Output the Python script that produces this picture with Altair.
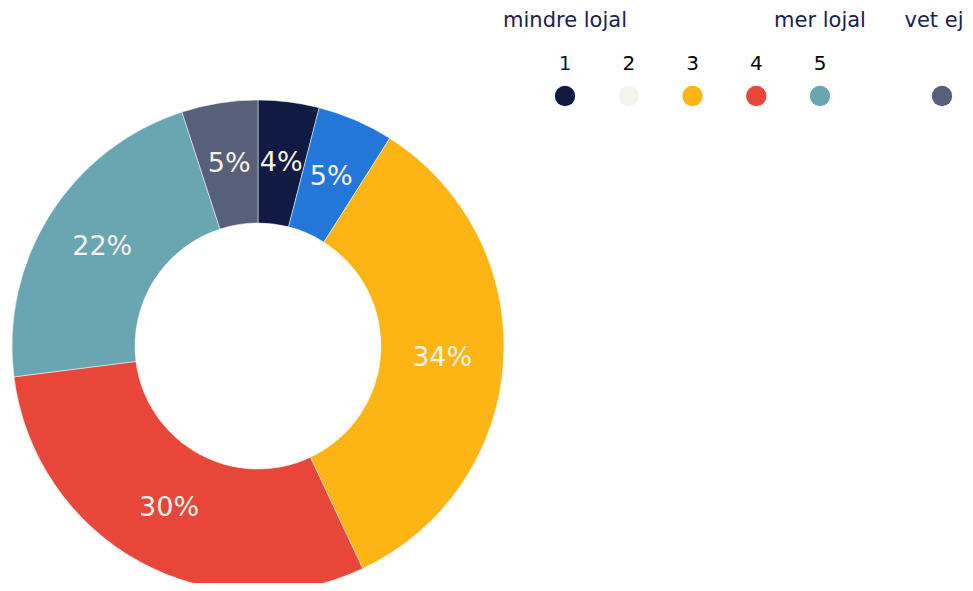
import altair as alt
import pandas as pd

categories = ["1", "2", "3", "4", "5", "vet ej"]
values = [4, 5, 34, 30, 22, 5]
slice_colors = ["#101a43", "#2377d9", "#fdb515", "#e84638", "#6aa5b2", "#575f7a"]
legend_colors = ["#101a43", "#f4f3ee", "#fdb515", "#e84638", "#6aa5b2", "#575f7a"]
legend_numbers = ["1", "2", "3", "4", "5", ""]
number_colors = ["#101a43", "#000000", "#000000", "#000000", "#000000", "#000000"]
legend_headers = ["mindre lojal", "", "", "", "mer lojal", "vet ej"]

FONT = "DejaVu Sans"

df = pd.DataFrame({
    "cat": categories,
    "value": values,
    "idx": list(range(len(categories))),
    "label": [f"{v}%" for v in values],
})

leg = pd.DataFrame({
    "cat": categories,
    "slot": list(range(len(categories))),
    "num": legend_numbers,
    "numcolor": number_colors,
    "dotcolor": legend_colors,
    "header": legend_headers,
})

cx, cy = 250, 338

arc = alt.Chart(df).mark_arc(innerRadius=123, outerRadius=246, stroke="#ffffff", strokeWidth=0.5).encode(
    theta=alt.Theta("value:Q", stack=True, scale=alt.Scale(domain=[0, sum(values)])),
    color=alt.Color("cat:N", scale=alt.Scale(domain=categories, range=slice_colors), legend=None),
    order=alt.Order("idx:Q"),
    x=alt.value(cx),
    y=alt.value(cy),
)

labels = alt.Chart(df).mark_text(radius=184.5, font=FONT, fontSize=27, color="#f4f1e9",
                                 align="center", baseline="middle").encode(
    theta=alt.Theta("value:Q", stack=True, scale=alt.Scale(domain=[0, sum(values)])),
    order=alt.Order("idx:Q"),
    text="label:N",
    x=alt.value(cx),
    y=alt.value(cy),
)

# piecewise linear legend scale: five equally spaced items, then a gap before "vet ej"
xscale = alt.Scale(type="linear", domain=[0, 4, 5], range=[557, 812, 934])

dots = alt.Chart(leg).mark_point(filled=True, shape="circle", size=415, opacity=1).encode(
    x=alt.X("slot:Q", scale=xscale, axis=None),
    y=alt.value(88),
    fill=alt.Fill("dotcolor:N", scale=None),
    stroke=alt.value(None),
)

nums = alt.Chart(leg).mark_text(font=FONT, fontSize=20, align="center", baseline="middle").encode(
    x=alt.X("slot:Q", scale=xscale, axis=None),
    y=alt.value(56),
    text="num:N",
    fill=alt.Fill("numcolor:N", scale=None),
)

heads = alt.Chart(leg).transform_filter(alt.datum.slot < 5).mark_text(
    font=FONT, fontSize=21, align="center", baseline="middle", color="#1a2150").encode(
    x=alt.X("slot:Q", scale=xscale, axis=None),
    y=alt.value(13),
    text="header:N",
)

# last header nudged left so it stays inside the page edge
head_last = alt.Chart(leg).transform_filter(alt.datum.slot == 5).mark_text(
    font=FONT, fontSize=21, align="center", baseline="middle", color="#1a2150", dx=-8).encode(
    x=alt.X("slot:Q", scale=xscale, axis=None),
    y=alt.value(13),
    text="header:N",
)

chart = alt.layer(arc, labels, dots, nums, heads, head_last).properties(
    width=957, height=575, padding=0, autosize=alt.AutoSizeParams(type="none")
).configure(background="#ffffff", view=alt.ViewConfig(stroke=None))

chart.save("out.html", embed_options={"renderer": "svg", "actions": False})
